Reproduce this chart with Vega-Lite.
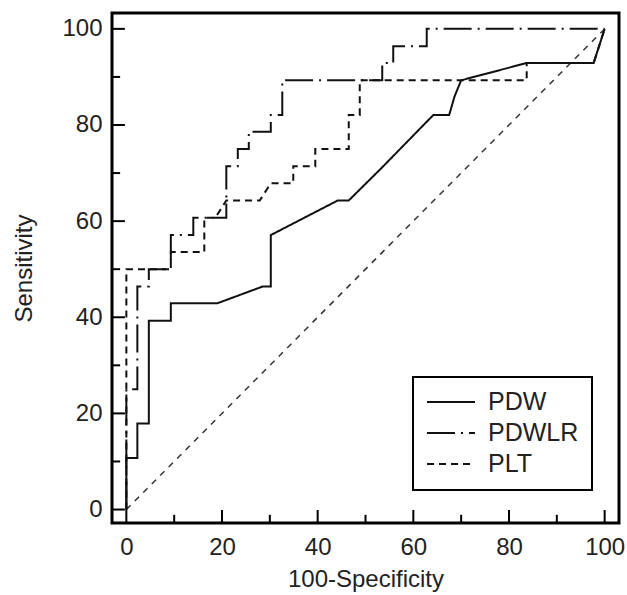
{
  "$schema": "https://vega.github.io/schema/vega-lite/v6.json",
  "width": 507,
  "height": 510,
  "autosize": "none",
  "padding": {"left": 112, "top": 13, "right": 8, "bottom": 72},
  "config": {
    "font": "Liberation Sans",
    "view": {"stroke": "#000", "strokeWidth": 3, "fill": null},
    "axis": {
      "domain": false,
      "grid": false,
      "ticks": false,
      "labelFontSize": 24,
      "labelColor": "#222",
      "titleFontSize": 24,
      "titleFontWeight": "normal",
      "titleColor": "#222"
    },
    "legend": {
      "orient": "none",
      "legendX": 301,
      "legendY": 364,
      "padding": 13,
      "strokeColor": "#000",
      "strokeWidth": 2,
      "fillColor": "#fff",
      "symbolType": "stroke",
      "symbolSize": 2304,
      "symbolStrokeWidth": 2,
      "symbolStrokeColor": "#111",
      "clipHeight": 24,
      "labelFontSize": 25,
      "labelColor": "#222",
      "labelOffset": 12,
      "rowPadding": 6
    }
  },
  "datasets": {
    "roc": [
      {"test": "PDW", "i": 1, "fpr": 0, "sens": 0},
      {"test": "PDW", "i": 2, "fpr": 0, "sens": 10.7},
      {"test": "PDW", "i": 3, "fpr": 2.3, "sens": 10.7},
      {"test": "PDW", "i": 4, "fpr": 2.3, "sens": 17.9},
      {"test": "PDW", "i": 5, "fpr": 4.7, "sens": 17.9},
      {"test": "PDW", "i": 6, "fpr": 4.7, "sens": 39.3},
      {"test": "PDW", "i": 7, "fpr": 9.3, "sens": 39.3},
      {"test": "PDW", "i": 8, "fpr": 9.3, "sens": 42.9},
      {"test": "PDW", "i": 9, "fpr": 19, "sens": 42.9},
      {"test": "PDW", "i": 10, "fpr": 28.5, "sens": 46.4},
      {"test": "PDW", "i": 11, "fpr": 30.2, "sens": 46.4},
      {"test": "PDW", "i": 12, "fpr": 30.2, "sens": 57.1},
      {"test": "PDW", "i": 13, "fpr": 44.2, "sens": 64.3},
      {"test": "PDW", "i": 14, "fpr": 46.5, "sens": 64.3},
      {"test": "PDW", "i": 15, "fpr": 53.3, "sens": 71.0},
      {"test": "PDW", "i": 16, "fpr": 64.2, "sens": 82.1},
      {"test": "PDW", "i": 17, "fpr": 67.5, "sens": 82.1},
      {"test": "PDW", "i": 18, "fpr": 68.6, "sens": 85.9},
      {"test": "PDW", "i": 19, "fpr": 70.0, "sens": 89.3},
      {"test": "PDW", "i": 20, "fpr": 83.7, "sens": 92.9},
      {"test": "PDW", "i": 21, "fpr": 97.7, "sens": 92.9},
      {"test": "PDW", "i": 22, "fpr": 100, "sens": 100},

      {"test": "PDWLR", "i": 1, "fpr": 0, "sens": 0},
      {"test": "PDWLR", "i": 2, "fpr": 0, "sens": 25},
      {"test": "PDWLR", "i": 3, "fpr": 2.3, "sens": 25},
      {"test": "PDWLR", "i": 4, "fpr": 2.3, "sens": 46.4},
      {"test": "PDWLR", "i": 5, "fpr": 4.7, "sens": 46.4},
      {"test": "PDWLR", "i": 6, "fpr": 4.7, "sens": 50},
      {"test": "PDWLR", "i": 7, "fpr": 9.3, "sens": 50},
      {"test": "PDWLR", "i": 8, "fpr": 9.3, "sens": 57.1},
      {"test": "PDWLR", "i": 9, "fpr": 14, "sens": 57.1},
      {"test": "PDWLR", "i": 10, "fpr": 14, "sens": 60.7},
      {"test": "PDWLR", "i": 11, "fpr": 20.9, "sens": 60.7},
      {"test": "PDWLR", "i": 12, "fpr": 20.9, "sens": 71.4},
      {"test": "PDWLR", "i": 13, "fpr": 23.3, "sens": 71.4},
      {"test": "PDWLR", "i": 14, "fpr": 23.3, "sens": 75},
      {"test": "PDWLR", "i": 15, "fpr": 25.6, "sens": 75},
      {"test": "PDWLR", "i": 16, "fpr": 25.6, "sens": 78.6},
      {"test": "PDWLR", "i": 17, "fpr": 30.2, "sens": 78.6},
      {"test": "PDWLR", "i": 18, "fpr": 30.2, "sens": 82.1},
      {"test": "PDWLR", "i": 19, "fpr": 32.6, "sens": 82.1},
      {"test": "PDWLR", "i": 20, "fpr": 32.6, "sens": 89.3},
      {"test": "PDWLR", "i": 21, "fpr": 53.5, "sens": 89.3},
      {"test": "PDWLR", "i": 22, "fpr": 53.5, "sens": 92.9},
      {"test": "PDWLR", "i": 23, "fpr": 55.8, "sens": 92.9},
      {"test": "PDWLR", "i": 24, "fpr": 55.8, "sens": 96.4},
      {"test": "PDWLR", "i": 25, "fpr": 62.8, "sens": 96.4},
      {"test": "PDWLR", "i": 26, "fpr": 62.8, "sens": 100},
      {"test": "PDWLR", "i": 27, "fpr": 100, "sens": 100},

      {"test": "PLT", "i": 1, "fpr": 0, "sens": 0},
      {"test": "PLT", "i": 2, "fpr": 0, "sens": 50},
      {"test": "PLT", "i": 3, "fpr": 9.3, "sens": 50},
      {"test": "PLT", "i": 4, "fpr": 9.3, "sens": 53.6},
      {"test": "PLT", "i": 5, "fpr": 16.3, "sens": 53.6},
      {"test": "PLT", "i": 6, "fpr": 16.3, "sens": 60.7},
      {"test": "PLT", "i": 7, "fpr": 18.6, "sens": 60.7},
      {"test": "PLT", "i": 8, "fpr": 20.9, "sens": 64.3},
      {"test": "PLT", "i": 9, "fpr": 27.9, "sens": 64.3},
      {"test": "PLT", "i": 10, "fpr": 30.2, "sens": 67.9},
      {"test": "PLT", "i": 11, "fpr": 34.9, "sens": 67.9},
      {"test": "PLT", "i": 12, "fpr": 34.9, "sens": 71.4},
      {"test": "PLT", "i": 13, "fpr": 39.5, "sens": 71.4},
      {"test": "PLT", "i": 14, "fpr": 39.5, "sens": 75},
      {"test": "PLT", "i": 15, "fpr": 46.5, "sens": 75},
      {"test": "PLT", "i": 16, "fpr": 46.5, "sens": 82.1},
      {"test": "PLT", "i": 17, "fpr": 48.8, "sens": 82.1},
      {"test": "PLT", "i": 18, "fpr": 48.8, "sens": 89.3},
      {"test": "PLT", "i": 19, "fpr": 83.7, "sens": 89.3},
      {"test": "PLT", "i": 20, "fpr": 83.7, "sens": 92.9},
      {"test": "PLT", "i": 21, "fpr": 97.7, "sens": 92.9},
      {"test": "PLT", "i": 22, "fpr": 100, "sens": 100}
    ],
    "chance": [
      {"fpr": 0, "sens": 0},
      {"fpr": 100, "sens": 100}
    ],
    "ticks": [
      {"t": "x0", "fpr": 0, "sens": -2.8}, {"t": "x0", "fpr": 0, "sens": -0.1},
      {"t": "x10", "fpr": 10, "sens": -2.8}, {"t": "x10", "fpr": 10, "sens": -1.1},
      {"t": "x20", "fpr": 20, "sens": -2.8}, {"t": "x20", "fpr": 20, "sens": -0.1},
      {"t": "x30", "fpr": 30, "sens": -2.8}, {"t": "x30", "fpr": 30, "sens": -1.1},
      {"t": "x40", "fpr": 40, "sens": -2.8}, {"t": "x40", "fpr": 40, "sens": -0.1},
      {"t": "x50", "fpr": 50, "sens": -2.8}, {"t": "x50", "fpr": 50, "sens": -1.1},
      {"t": "x60", "fpr": 60, "sens": -2.8}, {"t": "x60", "fpr": 60, "sens": -0.1},
      {"t": "x70", "fpr": 70, "sens": -2.8}, {"t": "x70", "fpr": 70, "sens": -1.1},
      {"t": "x80", "fpr": 80, "sens": -2.8}, {"t": "x80", "fpr": 80, "sens": -0.1},
      {"t": "x90", "fpr": 90, "sens": -2.8}, {"t": "x90", "fpr": 90, "sens": -1.1},
      {"t": "x100", "fpr": 100, "sens": -2.8}, {"t": "x100", "fpr": 100, "sens": -0.1},
      {"t": "y0", "fpr": -3, "sens": 0}, {"t": "y0", "fpr": -0.3, "sens": 0},
      {"t": "y10", "fpr": -3, "sens": 10}, {"t": "y10", "fpr": -1.3, "sens": 10},
      {"t": "y20", "fpr": -3, "sens": 20}, {"t": "y20", "fpr": -0.3, "sens": 20},
      {"t": "y30", "fpr": -3, "sens": 30}, {"t": "y30", "fpr": -1.3, "sens": 30},
      {"t": "y40", "fpr": -3, "sens": 40}, {"t": "y40", "fpr": -0.3, "sens": 40},
      {"t": "y50", "fpr": -3, "sens": 50}, {"t": "y50", "fpr": -1.3, "sens": 50},
      {"t": "y60", "fpr": -3, "sens": 60}, {"t": "y60", "fpr": -0.3, "sens": 60},
      {"t": "y70", "fpr": -3, "sens": 70}, {"t": "y70", "fpr": -1.3, "sens": 70},
      {"t": "y80", "fpr": -3, "sens": 80}, {"t": "y80", "fpr": -0.3, "sens": 80},
      {"t": "y90", "fpr": -3, "sens": 90}, {"t": "y90", "fpr": -1.3, "sens": 90},
      {"t": "y100", "fpr": -3, "sens": 100}, {"t": "y100", "fpr": -0.3, "sens": 100}
    ]
  },
  "layer": [
    {
      "data": {"name": "ticks"},
      "mark": {"type": "line", "stroke": "#000", "strokeWidth": 2},
      "encoding": {
        "x": {"field": "fpr", "type": "quantitative"},
        "y": {"field": "sens", "type": "quantitative"},
        "detail": {"field": "t", "type": "nominal"}
      }
    },
    {
      "data": {"name": "chance"},
      "mark": {"type": "line", "stroke": "#333", "strokeWidth": 1.5, "strokeDash": [6, 6]},
      "encoding": {
        "x": {"field": "fpr", "type": "quantitative"},
        "y": {"field": "sens", "type": "quantitative"}
      }
    },
    {
      "data": {"name": "roc"},
      "mark": {"type": "line", "stroke": "#111", "strokeWidth": 2},
      "encoding": {
        "x": {
          "field": "fpr",
          "type": "quantitative",
          "title": "100-Specificity",
          "scale": {"domain": [-3, 103], "nice": false, "zero": false},
          "axis": {
            "values": [0, 20, 40, 60, 80, 100],
            "labelPadding": 12,
            "titlePadding": 8
          }
        },
        "y": {
          "field": "sens",
          "type": "quantitative",
          "title": "Sensitivity",
          "scale": {"domain": [-2.8, 103.3], "nice": false, "zero": false},
          "axis": {
            "values": [0, 20, 40, 60, 80, 100],
            "labelPadding": 10,
            "titlePadding": 25
          }
        },
        "strokeDash": {
          "field": "test",
          "type": "nominal",
          "title": null,
          "scale": {
            "domain": ["PDW", "PDWLR", "PLT"],
            "range": [[1, 0], [28, 6, 2, 6], [7, 5]]
          }
        },
        "order": {"field": "i", "type": "quantitative"}
      }
    }
  ]
}
